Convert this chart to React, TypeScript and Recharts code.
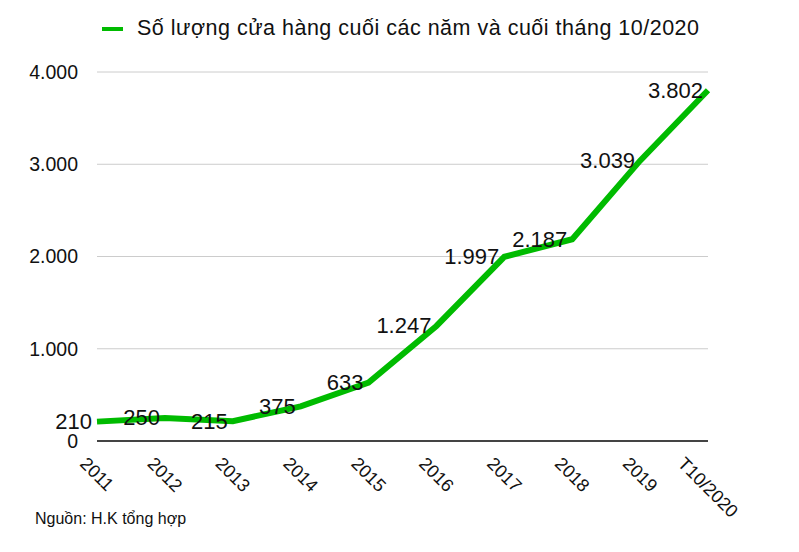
import { LineChart, Line, XAxis, YAxis, CartesianGrid, LabelList } from 'recharts';

const years: string[] = ['2011', '2012', '2013', '2014', '2015', '2016', '2017', '2018', '2019', 'T10/2020'];
const stores: number[] = [210, 250, 215, 375, 633, 1247, 1997, 2187, 3039, 3802];
const yTicks: number[] = [0, 1000, 2000, 3000, 4000];

const seriesName = 'Số lượng cửa hàng cuối các năm và cuối tháng 10/2020';
const source = 'Nguồn: H.K tổng hợp';

const data = years.map((year, i) => ({ year, value: stores[i] }));

const FONT = '"Liberation Sans", Arial, Helvetica, sans-serif';
const GREEN = '#00bb00';

// dấu chấm phân cách hàng nghìn
const fmt = (v: number) => String(v).replace(/\B(?=(\d{3})+(?!\d))/g, '.');

let ctx: CanvasRenderingContext2D | null = null;
function textWidth(s: string, size: number) {
  if (!ctx) ctx = document.createElement('canvas').getContext('2d');
  if (!ctx) return s.length * size * 0.556;
  ctx.font = `${size}px ${FONT}`;
  return ctx.measureText(s).width;
}

function XTick(props: any) {
  const { x, y, payload } = props;
  const size = 18;
  const L = textWidth(String(payload.value), size);
  const cx = x;
  const cy = y + 7 + (L + 13) / 2.83;
  return (
    <text
      x={cx}
      y={cy}
      textAnchor="middle"
      dominantBaseline="central"
      transform={`rotate(45, ${cx}, ${cy})`}
      fontSize={size}
      fontFamily={FONT}
      fill="#111"
    >
      {payload.value}
    </text>
  );
}

function ValueLabel(props: any) {
  const { x, y, value } = props;
  return (
    <text x={x - 5} y={y} textAnchor="end" dominantBaseline="central" fontSize={22} fontFamily={FONT} fill="#111">
      {fmt(value)}
    </text>
  );
}

export default function App() {
  return (
    <div style={{ position: 'absolute', left: 0, top: 0, width: 799, height: 552, background: '#fff', fontFamily: FONT }}>
      <div
        style={{
          position: 'absolute',
          left: 102,
          top: 16,
          display: 'flex',
          alignItems: 'center',
          fontSize: 21.5,
          letterSpacing: 0.5,
          color: '#111',
          whiteSpace: 'nowrap',
        }}
      >
        <span style={{ display: 'inline-block', width: 21, height: 4, background: GREEN, marginRight: 14 }} />
        {seriesName}
      </div>
      <LineChart width={799} height={552} data={data} margin={{ top: 72, right: 91, bottom: 0, left: 37 }}>
        <CartesianGrid horizontal vertical={false} stroke="#cccccc" />
        <XAxis
          dataKey="year"
          interval={0}
          height={111}
          tickLine={false}
          axisLine={{ stroke: '#444', strokeWidth: 2 }}
          tick={<XTick />}
        />
        <YAxis
          domain={[0, 4000]}
          ticks={yTicks}
          width={60}
          axisLine={false}
          tickLine={false}
          tickSize={0}
          tickMargin={19}
          tickFormatter={fmt}
          tick={{ fontSize: 19.5, fontFamily: FONT, fill: '#111' }}
        />
        <Line
          type="linear"
          dataKey="value"
          stroke={GREEN}
          strokeWidth={6}
          dot={false}
          isAnimationActive={false}
        >
          <LabelList dataKey="value" content={<ValueLabel />} />
        </Line>
      </LineChart>
      <div style={{ position: 'absolute', left: 35, top: 510, fontSize: 16, color: '#111', whiteSpace: 'nowrap' }}>{source}</div>
    </div>
  );
}
